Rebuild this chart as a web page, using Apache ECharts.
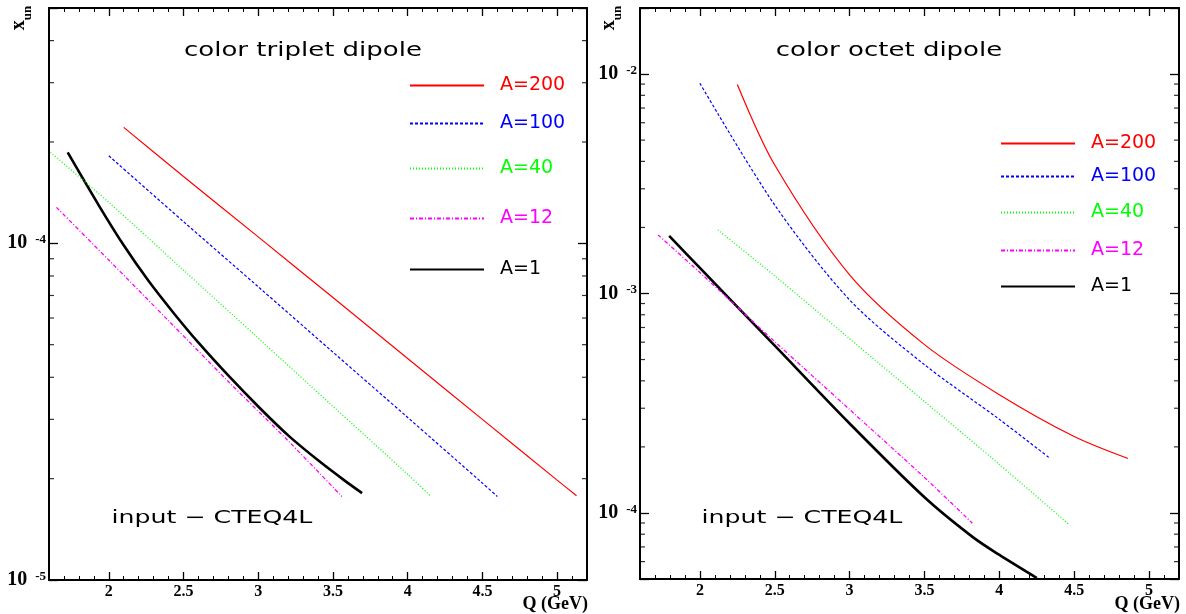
<!DOCTYPE html>
<html><head><meta charset="utf-8">
<script src="https://cdn.jsdelivr.net/npm/echarts@6/dist/echarts.min.js"></script>
<style>html,body{margin:0;padding:0;background:#fff}#c{width:1186px;height:614px}</style>
</head><body><div id="c"></div>
<script>
// ---------- data ----------
const seriesNames = ['A=200', 'A=100', 'A=40', 'A=12', 'A=1'];
const seriesColors = ['#ff0000', '#0000ff', '#00ff00', '#ff00ff', '#000000'];

// left panel: color triplet dipole
const qTri200 = [2.1, 2.5, 3.0, 3.5, 4.0, 4.5, 5.0, 5.13];
const xTri200 = [2.21e-4, 1.58e-4, 1.045e-4, 6.9e-5, 4.55e-5, 3.0e-5, 1.98e-5, 1.78e-5];
const qTri100 = [2.0, 2.5, 3.0, 3.5, 4.0, 4.5, 4.6];
const xTri100 = [1.82e-4, 1.16e-4, 7.43e-5, 4.75e-5, 3.04e-5, 1.94e-5, 1.77e-5];
const qTri40 = [1.61, 2.0, 2.5, 3.0, 3.5, 4.0, 4.157];
const xTri40 = [1.862e-4, 1.323e-4, 8.32e-5, 5.23e-5, 3.28e-5, 2.06e-5, 1.77e-5];
const qTri12 = [1.65, 2.0, 2.4, 2.8, 3.21, 3.56];
const xTri12 = [1.279e-4, 8.92e-5, 5.89e-5, 3.885e-5, 2.564e-5, 1.77e-5];
const qTri1 = [1.725, 1.933, 2.10, 2.268, 2.435, 2.603, 2.804, 3.005, 3.206, 3.407, 3.574, 3.695];
const xTri1 = [1.862e-4, 1.297e-4, 9.865e-5, 7.71e-5, 6.20e-5, 5.05e-5, 4.03e-5, 3.26e-5, 2.675e-5, 2.255e-5, 1.98e-5, 1.812e-5];

// right panel: color octet dipole
const qOct200 = [2.25, 2.5, 3.0, 3.5, 4.0, 4.5, 4.86];
const xOct200 = [8.97e-3, 3.85e-3, 1.216e-3, 5.85e-4, 3.46e-4, 2.23e-4, 1.77e-4];
const qOct100 = [2.0, 2.5, 3.0, 3.5, 4.0, 4.34];
const xOct100 = [9.08e-3, 2.53e-3, 9.35e-4, 4.74e-4, 2.67e-4, 1.77e-4];
const qOct40 = [2.12, 2.5, 3.0, 3.5, 4.0, 4.47];
const xOct40 = [1.948e-3, 1.203e-3, 6.22e-4, 3.22e-4, 1.665e-4, 8.79e-5];
const qOct12 = [1.72, 2.0, 2.5, 3.0, 3.5, 3.82];
const xOct12 = [1.85e-3, 1.246e-3, 6.03e-4, 2.96e-4, 1.45e-4, 8.98e-5];
const qOct1 = [1.795, 2.0, 2.5, 3.0, 3.5, 3.823, 4.003, 4.251];
const xOct1 = [1.829e-3, 1.308e-3, 5.785e-4, 2.557e-4, 1.179e-4, 7.76e-5, 6.42e-5, 5.05e-5];

// axes
const qRange = [1.6, 5.2];
const qMajorTicks = [2, 2.5, 3, 3.5, 4, 4.5, 5];
const yRangeLeft = [1e-5, 5e-4];
const yRangeRight = [5e-5, 2e-2];
const yMinorLeft = [2e-5, 3e-5, 4e-5, 5e-5, 6e-5, 7e-5, 8e-5, 9e-5, 2e-4, 3e-4, 4e-4];
const yMinorRight = [6e-5, 7e-5, 8e-5, 9e-5, 2e-4, 3e-4, 4e-4, 5e-4, 6e-4, 7e-4, 8e-4, 9e-4,
  2e-3, 3e-3, 4e-3, 5e-3, 6e-3, 7e-3, 8e-3, 9e-3];
const panelTitles = ['color triplet dipole', 'color octet dipole'];
const inputLabel = 'input \u2212 CTEQ4L';
const xAxisTitle = 'Q (GeV)';

// ---------- build ----------
const lineStyles = [
  { width: 1.2, type: 'solid' },
  { width: 1.2, type: [3, 2] },
  { width: 1.3, type: [1, 2] },
  { width: 1.3, type: [4, 2, 1, 2] },
  { width: 2.6, type: 'solid' }
];
const panels = [
  [[qTri200, xTri200], [qTri100, xTri100], [qTri40, xTri40], [qTri12, xTri12], [qTri1, xTri1]],
  [[qOct200, xOct200], [qOct100, xOct100], [qOct40, xOct40], [qOct12, xOct12], [qOct1, xOct1]]
];
const grids = [
  { left: 49, top: 8, width: 538, height: 572, outerBoundsMode: 'none', containLabel: false },
  { left: 640, top: 8, width: 539, height: 571, outerBoundsMode: 'none', containLabel: false }
];
const serif = 'Liberation Serif';
const sans = 'DejaVu Sans';

const xAxes = [], yAxes = [], series = [], legends = [];
grids.forEach((g, gi) => {
  const base = { gridIndex: gi, type: 'value', min: qRange[0], max: qRange[1], splitLine: { show: false } };
  xAxes.push(Object.assign({}, base, {
    position: 'bottom',
    axisLine: { lineStyle: { color: '#000', width: 2 } },
    axisTick: { inside: true, length: 8, customValues: qMajorTicks, lineStyle: { color: '#000', width: 1.3 } },
    axisLabel: { customValues: qMajorTicks, color: '#000', fontFamily: serif, fontWeight: 'bold', fontSize: 16, margin: 4 }
  }));
  xAxes.push(Object.assign({}, base, {
    position: 'bottom', interval: 0.1,
    axisLine: { show: false },
    axisTick: { inside: true, length: 4, lineStyle: { color: '#000', width: 1 } },
    axisLabel: { show: false }
  }));
  xAxes.push(Object.assign({}, base, {
    position: 'top',
    axisLine: { lineStyle: { color: '#000', width: 2 } },
    axisTick: { inside: true, length: 8, customValues: qMajorTicks, lineStyle: { color: '#000', width: 1.3 } },
    axisLabel: { show: false }
  }));
  xAxes.push(Object.assign({}, base, {
    position: 'top', interval: 0.1,
    axisLine: { show: false },
    axisTick: { inside: true, length: 4, lineStyle: { color: '#000', width: 1 } },
    axisLabel: { show: false }
  }));
  const yr = gi === 0 ? yRangeLeft : yRangeRight;
  const ybase = { gridIndex: gi, type: 'log', logBase: 10, min: yr[0], max: yr[1], splitLine: { show: false } };
  yAxes.push(Object.assign({}, ybase, {
    position: 'left',
    axisLine: { lineStyle: { color: '#000', width: 2 } },
    axisTick: { inside: true, length: 9, lineStyle: { color: '#000', width: 1.3 } },
    axisLabel: {
      margin: 3, showMinLabel: true, showMaxLabel: true,
      formatter: v => {
        const e = Math.log10(v);
        if (Math.abs(e - Math.round(e)) > 1e-6) return '';
        return '{b|10}{s|' + Math.round(e) + '}';
      },
      rich: {
        b: { fontFamily: serif, fontWeight: 'bold', fontSize: 20, color: '#000', lineHeight: 20, padding: [11, 0, 11, 0] },
        s: { fontFamily: serif, fontWeight: 'bold', fontSize: 13, color: '#000', lineHeight: 20, verticalAlign: 'top', padding: [0, 0, 0, 8] }
      }
    }
  }));
  yAxes.push(Object.assign({}, ybase, {
    position: 'right',
    axisLine: { lineStyle: { color: '#000', width: 2 } },
    axisTick: { inside: true, length: 9, lineStyle: { color: '#000', width: 1.3 } },
    axisLabel: { show: false }
  }));

  panels[gi].forEach((p, si) => {
    series.push({
      type: 'line', name: seriesNames[si], xAxisIndex: gi * 4, yAxisIndex: gi * 2,
      data: p[0].map((q, k) => [q, p[1][k]]),
      symbol: 'none', smooth: 0.3, z: 10 - si,
      lineStyle: Object.assign({ color: seriesColors[si] }, lineStyles[si]),
      itemStyle: { color: seriesColors[si] }
    });
  });
  // log minor ticks (both sides)
  const minor = gi === 0 ? yMinorLeft : yMinorRight;
  series.push({
    type: 'scatter', name: 'minorL' + gi, xAxisIndex: gi * 4, yAxisIndex: gi * 2, silent: true, clip: false,
    data: minor.map(v => [qRange[0], v]), symbol: 'rect', symbolSize: [5, 1.2], symbolOffset: [2.5, 0],
    itemStyle: { color: '#000' }, z: 20
  });
  series.push({
    type: 'scatter', name: 'minorR' + gi, xAxisIndex: gi * 4, yAxisIndex: gi * 2, silent: true, clip: false,
    data: minor.map(v => [qRange[1], v]), symbol: 'rect', symbolSize: [5, 1.2], symbolOffset: [-2.5, 0],
    itemStyle: { color: '#000' }, z: 20
  });
});

const legendPos = [
  { left: 409, tops: [83, 121, 166, 216, 267] },
  { left: 1000, tops: [141, 174, 210, 248, 284] }
];
legendPos.forEach(lp => {
  seriesNames.forEach((n, i) => {
    legends.push({
      left: lp.left, top: lp.tops[i] - 7, padding: 0, itemWidth: 74, itemHeight: 14, selectedMode: false,
      itemStyle: { opacity: 0 },
      data: [{ name: n, textStyle: { color: seriesColors[i] } }],
      textStyle: { fontFamily: sans, fontSize: 19, padding: [0, 0, 0, 11] }
    });
  });
});

const titleStyle = { fontFamily: sans, fontSize: 20, fill: '#000', textAlign: 'center', textVerticalAlign: 'middle' };
const qStyle = { fontFamily: serif, fontWeight: 'bold', fontSize: 18, fill: '#000', textAlign: 'right', textVerticalAlign: 'middle' };
const graphics = [
  { type: 'text', x: 303, y: 51, scaleX: 1.3, style: Object.assign({ text: panelTitles[0] }, titleStyle) },
  { type: 'text', x: 889, y: 51, scaleX: 1.3, style: Object.assign({ text: panelTitles[1] }, titleStyle) },
  { type: 'text', x: 212, y: 518, scaleX: 1.4, style: Object.assign({ text: inputLabel }, titleStyle, { fontSize: 18 }) },
  { type: 'text', x: 802, y: 518, scaleX: 1.4, style: Object.assign({ text: inputLabel }, titleStyle, { fontSize: 18 }) },
  { type: 'text', x: 588, y: 604, style: Object.assign({ text: xAxisTitle }, qStyle) },
  { type: 'text', x: 1180, y: 604, style: Object.assign({ text: xAxisTitle }, qStyle) }
];
[[22, 18], [612, 18]].forEach(p => {
  graphics.push({
    type: 'text', x: p[0], y: p[1], rotation: Math.PI / 2,
    style: {
      text: '{a|x}{b|un}', textAlign: 'center', textVerticalAlign: 'middle',
      rich: {
        a: { fontFamily: serif, fontWeight: 'bold', fontSize: 20, fill: '#000', lineHeight: 20, padding: [0, 0, 6, 0] },
        b: { fontFamily: serif, fontWeight: 'bold', fontSize: 13, fill: '#000', lineHeight: 14, padding: [12, 0, 0, 0] }
      }
    }
  });
});

const chart = echarts.init(document.getElementById('c'), null, { renderer: 'canvas' });
chart.setOption({
  animation: false,
  backgroundColor: '#fff',
  grid: grids,
  xAxis: xAxes,
  yAxis: yAxes,
  legend: legends,
  series: series,
  graphic: graphics
});
</script></body></html>
